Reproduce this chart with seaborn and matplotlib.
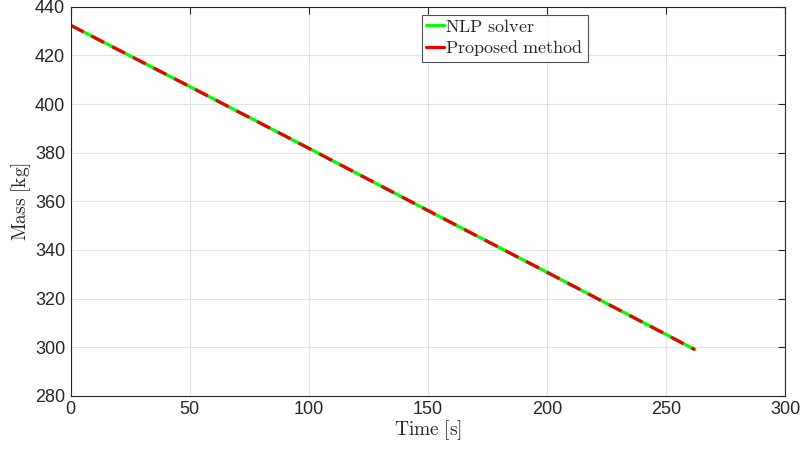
import matplotlib
matplotlib.use("Agg")
import matplotlib.pyplot as plt
import seaborn as sns
import pandas as pd

time_s = [0, 25, 50, 75, 100, 125, 150, 175, 200, 225, 250, 262]
mass_nlp = [432.4, 419.8, 407.2, 394.5, 381.8, 369.0, 356.2, 343.5, 330.8, 318.0, 305.2, 299.0]
mass_proposed = [432.4, 419.8, 407.2, 394.5, 381.8, 369.0, 356.2, 343.5, 330.8, 318.0, 305.2, 299.0]

sns.set_theme(style="whitegrid")
plt.rcParams['font.family'] = ['Liberation Sans', 'DejaVu Sans']
plt.rcParams['mathtext.fontset'] = 'cm'

df = pd.DataFrame({"t": time_s, "nlp": mass_nlp, "prop": mass_proposed})

fig = plt.figure(figsize=(8.03, 4.55), dpi=100)
ax = fig.add_axes([0.088, 0.130, 0.890, 0.855])

sns.lineplot(data=df, x="t", y="nlp", ax=ax, color=(0, 1, 0), lw=2.3,
             label=r"$\mathrm{NLP\ solver}$")
sns.lineplot(data=df, x="t", y="prop", ax=ax, color=(0.93, 0, 0), lw=2.3,
             label=r"$\mathrm{Proposed\ method}$")
ax.lines[1].set_linestyle((0, (4.5, 2.8)))

ax.set_xlim(0, 300)
ax.set_ylim(280, 440)
ax.set_xticks(range(0, 301, 50))
ax.set_yticks(range(280, 441, 20))
ax.set_facecolor("white")
ax.grid(True, color="#e3e3e3", lw=0.8)
for s in ax.spines.values():
    s.set_visible(True)
    s.set_color("#262626")
    s.set_linewidth(0.8)
ax.tick_params(axis="both", direction="in", length=5, width=0.8, color="#262626",
               labelsize=13, labelcolor="#262626", top=True, right=True, pad=4)
ax.set_xlabel(r"$\mathrm{Time\ [s]}$", fontsize=14, labelpad=0, color="#262626")
ax.set_ylabel(r"$\mathrm{Mass\ [kg]}$", fontsize=14, labelpad=1, color="#262626")

leg = ax.legend(loc="upper left", bbox_to_anchor=(422 / 803, 1 - 15 / 455),
                bbox_transform=fig.transFigure, frameon=True, fancybox=False,
                handlelength=1.0, handletextpad=0.1, borderpad=0.2, labelspacing=0.15,
                borderaxespad=0, fontsize=13)
leg.get_frame().set_edgecolor("#262626")
leg.get_frame().set_linewidth(0.8)
leg.legend_handles[1].set_linestyle("-")

fig.savefig("out.png", dpi=100)
